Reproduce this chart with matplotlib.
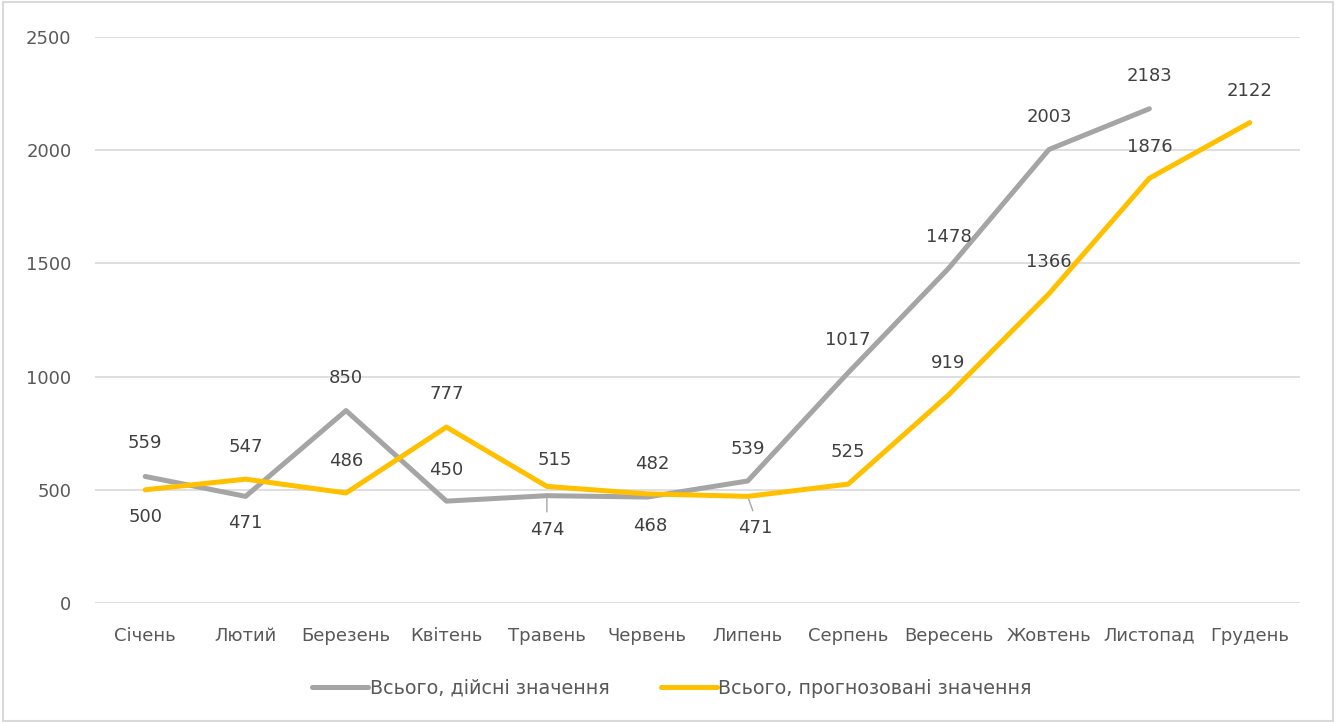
import matplotlib.pyplot as plt
from matplotlib.patches import Rectangle

plt.rcParams['font.family'] = ['DejaVu Sans']

months = ['Січень', 'Лютий', 'Березень', 'Квітень', 'Травень', 'Червень',
          'Липень', 'Серпень', 'Вересень', 'Жовтень', 'Листопад', 'Грудень']
actual = [559, 471, 850, 450, 474, 468, 539, 1017, 1478, 2003, 2183]
forecast = [500, 547, 486, 777, 515, 482, 471, 525, 919, 1366, 1876, 2122]
y_ticks = [0, 500, 1000, 1500, 2000, 2500]

# label offsets in pixels (dx, dy)
actual_off = [(0, 33), (0, -27), (0, 33), (0, 31), (0, -34), (3, -29),
              (0, 32), (0, 33), (0, 31), (0, 33), (0, 33)]
forecast_off = [(0, -27), (0, 32), (0, 32), (0, 33), (8, 26), (5, 30),
                (8, -32), (0, 32), (0, 32), (0, 32), (0, 31), (0, 32)]

grey = '#A5A5A5'
gold = '#FFC000'
txt = '#404040'

fig = plt.figure(figsize=(13.36, 7.22), dpi=100)
ax = fig.add_axes([95 / 1336, 1 - 603 / 722, 1205 / 1336, 566 / 722])

x_a = list(range(len(actual)))
x_f = list(range(len(forecast)))
ax.plot(x_a, actual, color=grey, lw=3.6, solid_capstyle='round',
        solid_joinstyle='round', label='Всього, дійсні значення', zorder=3)
ax.plot(x_f, forecast, color=gold, lw=3.6, solid_capstyle='round',
        solid_joinstyle='round', label='Всього, прогнозовані значення', zorder=4)

for xi, v, (dx, dy) in zip(x_a, actual, actual_off):
    ax.annotate(str(v), (xi, v), xytext=(dx, dy), textcoords='offset pixels',
                ha='center', va='center', fontsize=13, color=txt)
for xi, v, (dx, dy) in zip(x_f, forecast, forecast_off):
    ax.annotate(str(v), (xi, v), xytext=(dx, dy), textcoords='offset pixels',
                ha='center', va='center', fontsize=13, color=txt)

# leader lines for labels pushed away from points
ax.annotate('', (4, 474), xytext=(0, -19), textcoords='offset pixels',
            arrowprops=dict(arrowstyle='-', color=grey, lw=1))
ax.annotate('', (6, 471), xytext=(6, -17), textcoords='offset pixels',
            arrowprops=dict(arrowstyle='-', color=grey, lw=1))

ax.set_xlim(-0.5, 11.5)
ax.set_ylim(0, 2500)
ax.set_xticks(range(12))
ax.set_xticklabels(months)
ax.set_yticks(y_ticks)
ax.tick_params(length=0, labelsize=13, labelcolor='#595959')
ax.tick_params(axis='x', pad=17)
ax.tick_params(axis='y', pad=17)
ax.grid(axis='y', color='#D9D9D9', lw=1.2)
ax.set_axisbelow(True)
for s in ax.spines.values():
    s.set_visible(False)

fig.legend(loc='center', bbox_to_anchor=(672 / 1336, 1 - 688 / 722), ncol=2,
           frameon=False, fontsize=13.8, handlelength=2.9, handletextpad=0.1,
           columnspacing=2.7, labelcolor='#595959')

fig.patches.append(Rectangle((0.002, 0.002), 0.996, 0.995, transform=fig.transFigure,
                             fill=False, edgecolor='#D9D9D9', lw=1.5))

fig.savefig('out.png', dpi=100)
